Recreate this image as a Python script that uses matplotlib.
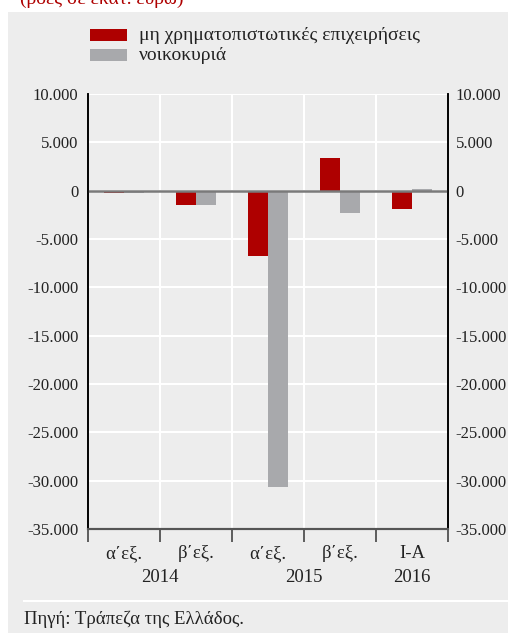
import numpy as np
import matplotlib.pyplot as plt
from matplotlib.patches import Rectangle
from matplotlib.transforms import blended_transform_factory

plt.rcParams['font.family'] = ['Liberation Serif', 'DejaVu Serif']

# data (εκατ. ευρώ)
periods = ["α΄εξ.", "β΄εξ.", "α΄εξ.", "β΄εξ.", "I-A"]
years = ["2014", "2015", "2016"]
year_pos = [0.5, 2.5, 4.0]
firms = [-250, -1500, -6800, 3400, -1850]
households = [-200, -1500, -30700, -2300, 200]
series_names = ["μη χρηματοπιστωτικές επιχειρήσεις", "νοικοκυριά"]
yticks = np.arange(-35000, 10001, 5000)

red = "#AE0000"
grey = "#A8A9AC"
bg = "#EDEDED"
txt = "#222222"
fs = 13.5
tfs = 12

W, H = 508, 633
fig = plt.figure(figsize=(W / 100, H / 100), dpi=100)

# grey panel behind everything
fig.patches.append(Rectangle((8 / W, 0), 1, (H - 12) / H, transform=fig.transFigure,
                             facecolor=bg, edgecolor="none", zorder=-5))
fig.lines.append(plt.Line2D([24 / W, 1], [(H - 601) / H] * 2, transform=fig.transFigure,
                            color="white", lw=1.5, zorder=-4))
fig.text(20 / W, (H + 1) / H, "(ροές σε εκατ. ευρώ)", color=red, fontsize=14,
         va="center", ha="left")
fig.text(24 / W, (H - 619) / H, "Πηγή: Τράπεζα της Ελλάδος.", color=txt,
         fontsize=fs, va="center", ha="left")

# legend
for i, (name, c) in enumerate(zip(series_names, [red, grey])):
    yc = 35 + 20 * i
    fig.patches.append(Rectangle((90 / W, (H - yc - 5.5) / H), 37 / W, 11 / H,
                                 transform=fig.transFigure, facecolor=c, edgecolor="none"))
    fig.text(139 / W, (H - yc) / H, name, color=txt, fontsize=14, va="center", ha="left")

ax = fig.add_axes([88 / W, (H - 529) / H, 360 / W, 435 / H])
ax.set_facecolor(bg)
x = np.arange(len(periods))
w = 0.28
ax.bar(x - w / 2, firms, w, color=red, zorder=2)
ax.bar(x + w / 2, households, w, color=grey, zorder=2)
ax.axhline(0, color="#7A7A7A", lw=1.8, zorder=3)

ax.set_xlim(-0.5, len(periods) - 0.5)
ax.set_ylim(-35000, 10000)
ylabels = [f"{v:,}".replace(",", ".") for v in yticks]
ax.set_yticks(yticks)
ax.set_yticklabels(ylabels)
ax.set_xticks(np.arange(-0.5, len(periods), 1.0))
ax.set_xticklabels([])
ax.grid(True, color="white", lw=1.5, zorder=1)
ax.set_axisbelow(True)

ax.tick_params(axis="y", length=0, labelsize=tfs, labelcolor=txt, pad=7)
ax.tick_params(axis="x", direction="out", length=9, width=1.2, color="#444444")

# right-hand copy of the value axis
ax2 = ax.twinx()
ax2.set_ylim(ax.get_ylim())
ax2.set_yticks(yticks)
ax2.set_yticklabels(ylabels)
ax2.tick_params(axis="y", length=0, labelsize=tfs, labelcolor=txt, pad=5.5)
for a in (ax, ax2):
    for s in ["left", "right"]:
        a.spines[s].set_color("black")
        a.spines[s].set_linewidth(1.2)
    a.spines["top"].set_visible(False)
    a.spines["bottom"].set_color("#555555")
    a.spines["bottom"].set_linewidth(1.5)

tr = blended_transform_factory(ax.transData, ax.transAxes)
for i, p in enumerate(periods):
    ax.text(i, -25 / 435, p, transform=tr, ha="center", va="center", fontsize=fs, color=txt)
for yr, pos in zip(years, year_pos):
    ax.text(pos, -48 / 435, yr, transform=tr, ha="center", va="center", fontsize=fs, color=txt)

fig.savefig("out.png", dpi=100)
